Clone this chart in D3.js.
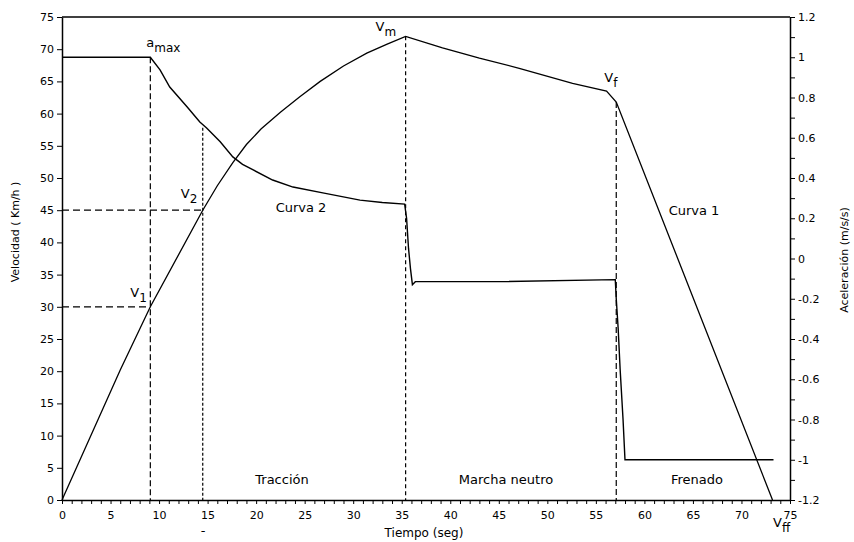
<!DOCTYPE html>
<html>
<head>
<meta charset="utf-8">
<script src="https://cdn.jsdelivr.net/npm/d3@7"></script>
<style>
  body { margin: 0; background: #fff; }
  text { font-family: "DejaVu Sans", sans-serif; fill: #000; }
</style>
</head>
<body>
<div id="chart"></div>
<script>
// velocidad (km/h) vs tiempo (s)
let vel_t = [0, 6, 9.1, 14.5, 16, 17.6, 19, 20.5, 22.5, 24.5, 26.6, 29, 31.4, 33.5, 35.4, 39.2, 43, 47.2, 52.6, 56.1, 57.1, 73.2];
let vel_v = [0, 20.2, 30, 45, 48.8, 52.4, 55.2, 57.6, 60.2, 62.6, 65, 67.4, 69.4, 70.8, 72, 70.2, 68.6, 67, 64.7, 63.5, 61.8, 0];

// aceleracion (m/s/s) vs tiempo (s)
let acc_t = [0, 9.1, 10.1, 11.1, 12.9, 14.2, 14.9, 16.3, 17.6, 18.6, 19.7, 21.7, 23.8, 27, 30.7, 33, 35.3, 35.5, 35.7, 35.9, 36.1, 36.4, 45, 57, 57.1, 57.3, 57.5, 57.8, 58, 73.3];
let acc_a = [1, 1, 0.937, 0.852, 0.753, 0.678, 0.648, 0.58, 0.505, 0.468, 0.44, 0.39, 0.355, 0.325, 0.29, 0.278, 0.27, 0.2, 0.05, -0.05, -0.13, -0.115, -0.115, -0.105, -0.2, -0.35, -0.55, -0.8, -1, -1];

// puntos marcados
let t_amax = 9.1, t_v2 = 14.5, t_vm = 35.4, t_vf = 57.1;
let v1 = 30, v2 = 45, vm = 72, vf = 61.8;
let a_at_v2 = 0.65;

let x_ticks = d3.range(0, 76, 1);
let yv_ticks = d3.range(0, 76, 5);
let ya_ticks = d3.range(-12, 13, 1).map(d => d / 10);

let chart_width  = 854;
let chart_height = 542;
let m_left = 62, m_right = 790, m_top = 17, m_bottom = 500;

let svg = d3.select('#chart')
    .append('svg')
    .attr('width', chart_width)
    .attr('height', chart_height);

//scales
let x_scale = d3.scaleLinear().domain([0, 75]).range([m_left, m_right]);
let yv_scale = d3.scaleLinear().domain([0, 75]).range([m_bottom, m_top]);
let ya_scale = d3.scaleLinear().domain([-1.2, 1.2]).range([m_bottom, m_top]);

//axes
let x_axis = d3.axisBottom(x_scale)
    .tickValues(x_ticks)
    .tickSize(4)
    .tickSizeOuter(0)
    .tickPadding(7)
    .tickFormat(d => d % 5 === 0 ? d : '');

let yv_axis = d3.axisLeft(yv_scale)
    .tickValues(yv_ticks)
    .tickSize(5)
    .tickSizeOuter(0)
    .tickPadding(3);

let ya_axis = d3.axisRight(ya_scale)
    .tickValues(ya_ticks)
    .tickSize(5)
    .tickSizeOuter(0)
    .tickPadding(3)
    .tickFormat(d => Math.round(d * 10) % 2 === 0 ? String(+d.toFixed(1)) : '');

function style_axis(g) {
  g.select('.domain').attr('stroke-width', 1.5);
  g.selectAll('.tick line').attr('stroke-width', 1);
  g.selectAll('.tick text').attr('font-size', 11).attr('font-family', '"DejaVu Sans", sans-serif');
}

svg.append('g')
  .attr('transform', 'translate(0,' + m_bottom + ')')
  .call(x_axis)
  .call(style_axis);

svg.append('g')
  .attr('transform', 'translate(' + m_left + ',0)')
  .call(yv_axis)
  .call(style_axis);

svg.append('g')
  .attr('transform', 'translate(' + m_right + ',0)')
  .call(ya_axis)
  .call(style_axis);

// borde superior
svg.append('line')
  .attr('x1', m_left).attr('x2', m_right)
  .attr('y1', m_top).attr('y2', m_top)
  .attr('stroke', '#000')
  .attr('stroke-width', 1.5);

//curves
let vel_line = d3.line()
  .x((d, i) => x_scale(vel_t[i]))
  .y(d => yv_scale(d));

let acc_line = d3.line()
  .x((d, i) => x_scale(acc_t[i]))
  .y(d => ya_scale(d));

svg.append('path')
  .attr('d', vel_line(vel_v))
  .attr('fill', 'none')
  .attr('stroke', '#000')
  .attr('stroke-width', 1.3);

svg.append('path')
  .attr('d', acc_line(acc_a))
  .attr('fill', 'none')
  .attr('stroke', '#000')
  .attr('stroke-width', 1.4);

//dashed guides
let guides = [
  { x1: x_scale(t_amax), y1: ya_scale(1), x2: x_scale(t_amax), y2: m_bottom, dash: '6,3' },
  { x1: x_scale(t_v2), y1: ya_scale(a_at_v2), x2: x_scale(t_v2), y2: m_bottom, dash: '3,2' },
  { x1: x_scale(t_vm), y1: yv_scale(vm), x2: x_scale(t_vm), y2: m_bottom, dash: '4,3' },
  { x1: x_scale(t_vf), y1: yv_scale(vf), x2: x_scale(t_vf), y2: m_bottom, dash: '6,3' },
  { x1: m_left, y1: yv_scale(v1), x2: x_scale(t_amax), y2: yv_scale(v1), dash: '7,4' },
  { x1: m_left, y1: yv_scale(v2), x2: x_scale(t_v2), y2: yv_scale(v2), dash: '7,4' }
];

svg.append('g')
  .selectAll('line')
  .data(guides)
  .enter()
  .append('line')
  .attr('x1', d => d.x1).attr('y1', d => d.y1)
  .attr('x2', d => d.x2).attr('y2', d => d.y2)
  .attr('stroke', '#000')
  .attr('stroke-width', 1.2)
  .attr('stroke-dasharray', d => d.dash);

//labels with subscripts
let sub_labels = [
  { x: x_scale(t_amax) - 4, y: 47, main: 'a', sub: 'max' },
  { x: x_scale(t_amax) - 20, y: 297, main: 'V', sub: '1' },
  { x: x_scale(t_v2) - 22, y: 198, main: 'V', sub: '2' },
  { x: x_scale(t_vm) - 30, y: 31, main: 'V', sub: 'm' },
  { x: x_scale(t_vf) - 12, y: 82, main: 'V', sub: 'f' },
  { x: x_scale(75) - 17, y: 527, main: 'V', sub: 'ff' }
];

let sl = svg.append('g')
  .selectAll('text')
  .data(sub_labels)
  .enter()
  .append('text')
  .attr('x', d => d.x)
  .attr('y', d => d.y)
  .attr('font-size', 13);

sl.append('tspan').text(d => d.main);
sl.append('tspan')
  .attr('dy', 5)
  .attr('font-size', 12)
  .text(d => d.sub);

//plain labels
let plain_labels = [
  { x: 301, y: 212, text: 'Curva 2' },
  { x: 694, y: 215, text: 'Curva 1' },
  { x: 282, y: 484, text: 'Tracción' },
  { x: 506, y: 484, text: 'Marcha neutro' },
  { x: 697, y: 484, text: 'Frenado' },
  { x: 203, y: 535, text: '-' }
];

svg.append('g')
  .selectAll('text')
  .data(plain_labels)
  .enter()
  .append('text')
  .attr('x', d => d.x)
  .attr('y', d => d.y)
  .attr('text-anchor', 'middle')
  .attr('font-size', 13)
  .text(d => d.text);

//axis titles
svg.append('text')
  .attr('x', 424)
  .attr('y', 537)
  .attr('text-anchor', 'middle')
  .attr('font-size', 12)
  .text('Tiempo (seg)');

svg.append('text')
  .attr('transform', 'translate(19,232) rotate(-90)')
  .attr('text-anchor', 'middle')
  .attr('font-size', 11)
  .text('Velocidad ( Km/h )');

svg.append('text')
  .attr('transform', 'translate(848,260) rotate(-90)')
  .attr('text-anchor', 'middle')
  .attr('font-size', 11)
  .text('Aceleración (m/s/s)');
</script>
</body>
</html>
